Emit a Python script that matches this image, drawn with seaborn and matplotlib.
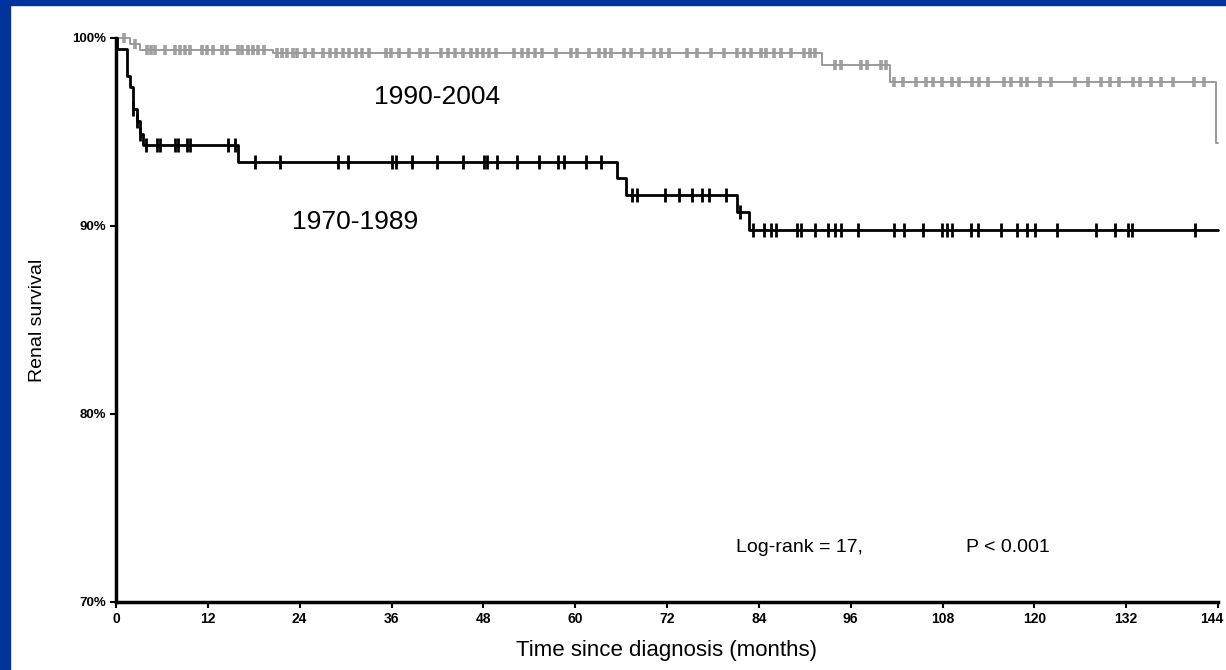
import numpy as np
import pandas as pd
import matplotlib
matplotlib.use("Agg")
import matplotlib.pyplot as plt
from matplotlib.patches import Rectangle
import matplotlib.transforms as mtransforms
import seaborn as sns

# ---- data ----
# 1970-1989 cohort: step times (months) and survival (%)
t_1970 = [0, 0.15, 1.4, 1.8, 2.2, 2.7, 3.1, 3.5, 15.9, 65.5, 66.6, 81.1, 82.7, 144]
s_1970 = [100, 99.4, 98.0, 97.4, 96.2, 95.6, 94.9, 94.3, 93.4, 92.55, 91.65, 90.75, 89.8, 89.8]
cens_1970 = [2.2, 2.7, 3.1, 3.9, 5.3, 5.7, 7.7, 8.1, 9.3, 9.7, 14.6, 15.5,
             18.1, 21.4, 29.0, 30.3, 36.1, 36.6, 38.7, 41.9, 45.3, 48.1, 48.5, 49.8,
             52.4, 55.3, 57.7, 58.6, 61.4, 63.4,
             67.4, 68.1, 71.8, 73.6, 75.3, 76.6, 77.5, 79.7, 81.5,
             83.3, 84.7, 85.6, 86.2, 89.0, 89.5, 91.4, 93.1, 94.0, 94.8, 97.0,
             101.6, 103.0, 105.4, 107.9, 108.6, 109.2, 111.7, 112.7, 115.7, 117.7,
             119.0, 120.1, 122.9, 128.0, 130.6, 132.3, 132.7, 141.0]

# 1990-2004 cohort
t_1990 = [0, 1.8, 3.2, 20.5, 92.2, 101.1, 143.8, 144]
s_1990 = [100, 99.7, 99.36, 99.2, 98.56, 97.66, 94.4, 94.4]
cens_1990 = [1.0, 2.5, 4.0, 4.6, 5.1, 6.4, 7.7, 8.3, 9.0, 9.7, 11.2, 11.9, 12.7, 13.8,
             14.5, 15.9, 16.4, 17.3, 17.9, 18.5, 19.4, 21.0, 21.7, 22.3, 23.1, 23.7,
             24.7, 25.7, 27.0, 27.9, 28.8, 29.6, 30.5, 31.3, 32.1, 33.1, 35.3, 35.9,
             37.0, 38.3, 39.7, 40.7, 42.5, 43.4, 44.3, 45.3, 46.4, 47.2, 48.0, 48.8,
             49.7, 52.0, 53.0, 53.9, 54.8, 55.7, 57.5, 59.5, 60.3, 61.8, 63.1, 63.9,
             64.7, 66.4, 67.3, 68.7, 70.3, 71.2, 72.3, 74.6, 75.9, 77.7, 79.4, 81.1,
             82.0, 83.0, 84.3, 85.0, 86.0, 86.9, 88.2, 89.9, 90.7, 91.4,
             93.9, 94.8, 97.3, 98.1, 99.9, 100.6,
             101.7, 102.8, 104.5, 105.8, 106.8, 107.9, 109.2, 110.1, 111.9, 112.8,
             114.0, 116.0, 116.9, 118.2, 119.1, 120.8, 122.2, 125.3, 127.0, 128.7,
             129.9, 131.0, 132.9, 133.8, 135.3, 136.6, 138.1, 140.9, 142.2]

x_ticks = [0, 12, 24, 36, 48, 60, 72, 84, 96, 108, 120, 132, 144]
y_ticks = [70, 80, 90, 100]
y_ticklabels = ["70%", "80%", "90%", "100%"]


def level_at(times, levels, pts):
    idx = np.searchsorted(np.asarray(times), np.asarray(pts), side="right") - 1
    return np.asarray(levels)[idx]


sns.set_theme(style="ticks")
plt.rcParams["font.family"] = ["Liberation Sans", "DejaVu Sans"]
plt.rcParams["text.color"] = "black"
plt.rcParams["axes.labelcolor"] = "black"
plt.rcParams["xtick.color"] = "black"
plt.rcParams["ytick.color"] = "black"

W, H = 1226, 670
fig = plt.figure(figsize=(W / 100, H / 100), dpi=100)
fig.patch.set_facecolor("white")
# blue frame (left and top)
fig.patches.append(Rectangle((0, 0), 10 / W, 1, transform=fig.transFigure,
                             color="#00339c", zorder=0))
fig.patches.append(Rectangle((0, 1 - 5 / H), 1, 5 / H, transform=fig.transFigure,
                             color="#00339c", zorder=0))

ax = fig.add_axes([116 / W, 1 - 602 / H, (1218 - 116) / W, (602 - 38) / H])
ax.set_facecolor("white")

df70 = pd.DataFrame({"t": t_1970, "s": s_1970})
df90 = pd.DataFrame({"t": t_1990, "s": s_1990})

sns.lineplot(data=df90, x="t", y="s", ax=ax, drawstyle="steps-post",
             color="#9a9a9a", linewidth=1.4, estimator=None, clip_on=False)
sns.lineplot(data=df70, x="t", y="s", ax=ax, drawstyle="steps-post",
             color="black", linewidth=2.0, estimator=None, clip_on=False)

c90 = pd.DataFrame({"t": cens_1990, "s": level_at(t_1990, s_1990, cens_1990)})
c70 = pd.DataFrame({"t": cens_1970, "s": level_at(t_1970, s_1970, cens_1970)})
sns.scatterplot(data=c90, x="t", y="s", ax=ax, marker="|", s=55,
                color="#a0a0a0", linewidth=2.6, clip_on=False)
sns.scatterplot(data=c70, x="t", y="s", ax=ax, marker="|", s=110,
                color="black", linewidth=2.0, clip_on=False)

ax.set_xlim(0, 144)
ax.set_ylim(70, 100)
ax.set_xticks(x_ticks)
ax.set_xticklabels([str(v) for v in x_ticks], fontsize=10, fontweight="bold")
ax.set_yticks(y_ticks)
ax.set_yticklabels(y_ticklabels, fontsize=9.5, fontweight="bold")
ax.tick_params(axis="both", direction="out", length=4, width=1.5, color="black",
               pad=3)
# keep the last x tick label inside the figure
last = ax.get_xticklabels()[-1]
last.set_transform(last.get_transform() +
                   mtransforms.ScaledTranslation(-6 / 100, 0, fig.dpi_scale_trans))
for sp in ["top", "right"]:
    ax.spines[sp].set_visible(False)
for sp in ["left", "bottom"]:
    ax.spines[sp].set_linewidth(2.5)
    ax.spines[sp].set_color("black")

ax.set_xlabel("Time since diagnosis (months)", fontsize=16, labelpad=10)
ax.set_ylabel("Renal survival", fontsize=14, labelpad=36)
ax.yaxis.set_label_coords(-70 / (1218 - 116), 0.5)

ax.text(41.9, 96.85, "1990-2004", fontsize=19, ha="center", va="center")
ax.text(31.2, 90.2, "1970-1989", fontsize=19, ha="center", va="center")
ax.text(81.0, 72.9, "Log-rank = 17,", fontsize=14, ha="left", va="center")
ax.text(111.1, 72.9, "P < 0.001", fontsize=14, ha="left", va="center")

fig.savefig("out.png", dpi=100, facecolor="white")
